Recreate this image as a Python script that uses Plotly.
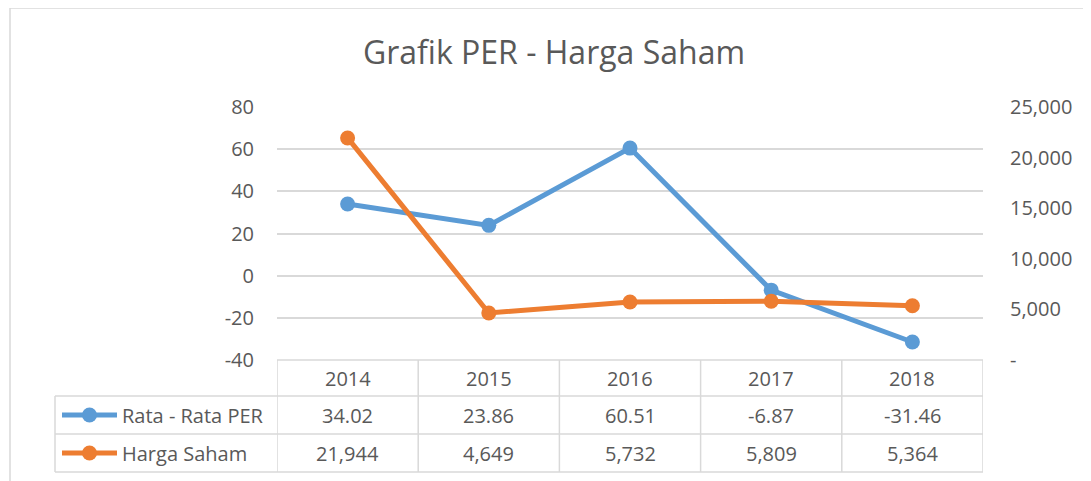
import plotly.graph_objects as go

years = ["2014", "2015", "2016", "2017", "2018"]
rata_per = [34.02, 23.86, 60.51, -6.87, -31.46]
harga_saham = [21944, 4649, 5732, 5809, 5364]
left_ticks = [-40, -20, 0, 20, 40, 60, 80]
left_labels = ["-40", "-20", "0", "20", "40", "60", "80"]
right_ticks = [0, 5000, 10000, 15000, 20000, 25000]
right_labels = ["-", "5,000", "10,000", "15,000", "20,000", "25,000"]

BLUE = "#5B9BD5"
ORANGE = "#ED7D31"
GRID = "#D9D9D9"
TXT = "#595959"
FONT = "Open Sans"

W, H = 1091, 481
OFF = 8  # page body margin shifts the figure by 8px
L, R, T, B = 277 - OFF, 983 - OFF, 107 - OFF, 360 - OFF


def px(x):
    # x in page pixels -> paper coords
    return (x - OFF - L) / (R - L)


def py(y):
    return (B - (y - OFF)) / (B - T)


fig = go.Figure()
fig.add_trace(
    go.Scatter(
        x=list(range(len(years))),
        y=rata_per,
        name="Rata - Rata PER",
        mode="lines+markers",
        line=dict(color=BLUE, width=5),
        marker=dict(size=15, color=BLUE),
        yaxis="y1",
    )
)
fig.add_trace(
    go.Scatter(
        x=list(range(len(years))),
        y=harga_saham,
        name="Harga Saham",
        mode="lines+markers",
        line=dict(color=ORANGE, width=5),
        marker=dict(size=15, color=ORANGE),
        yaxis="y2",
    )
)

# data table under the plot
row_top = [360, 396, 434]
row_bot = [396, 434, 472]
shapes = []
line = dict(color=GRID, width=1.5)
# outer chart border (cropped)
shapes.append(dict(type="line", xref="paper", yref="paper", x0=px(10), x1=px(1100), y0=py(8), y1=py(8), line=line))
shapes.append(dict(type="line", xref="paper", yref="paper", x0=px(10), x1=px(10), y0=py(8), y1=py(490), line=line))
# horizontal table lines
shapes.append(dict(type="line", xref="x", yref="paper", x0=-0.5, x1=len(years) - 0.5, y0=py(360), y1=py(360), line=line))
for yy in [396, 434, 472]:
    shapes.append(dict(type="line", xref="paper", yref="paper", x0=px(55), x1=1, y0=py(yy), y1=py(yy), line=line))
shapes.append(dict(type="line", xref="paper", yref="paper", x0=px(55), x1=px(55), y0=py(396), y1=py(472), line=line))
for i in range(len(years) + 1):
    shapes.append(dict(type="line", xref="x", yref="paper", x0=i - 0.5, x1=i - 0.5, y0=py(360), y1=py(472), line=line))

annotations = []
rows = [
    years,
    [f"{v:.2f}" for v in rata_per],
    [f"{v:,}" for v in harga_saham],
]
for r, vals in enumerate(rows):
    yc = py((row_top[r] + row_bot[r]) / 2)
    for i, v in enumerate(vals):
        annotations.append(dict(x=i, y=yc, xref="x", yref="paper", text=v, showarrow=False,
                                font=dict(family=FONT, size=20, color=TXT), xanchor="center", yanchor="middle"))

for r, (name, col) in enumerate([("Rata - Rata PER", BLUE), ("Harga Saham", ORANGE)], start=1):
    yc = py((row_top[r] + row_bot[r]) / 2)
    shapes.append(dict(type="line", xref="paper", yref="paper", x0=px(62), x1=px(117), y0=yc, y1=yc,
                       line=dict(color=col, width=5)))
    shapes.append(dict(type="circle", xref="paper", yref="paper", xsizemode="pixel", ysizemode="pixel",
                       xanchor=px(89.5), yanchor=yc, x0=-7.5, x1=7.5, y0=-7.5, y1=7.5,
                       fillcolor=col, line=dict(color=col, width=0)))
    annotations.append(dict(x=px(120), y=yc, xref="paper", yref="paper", text=name, showarrow=False,
                            font=dict(family=FONT, size=20, color=TXT), xanchor="left", yanchor="middle"))

fig.update_layout(
    width=W,
    height=H,
    paper_bgcolor="white",
    plot_bgcolor="white",
    margin=dict(l=L, r=W - R, t=T, b=H - B, pad=0),
    title=dict(text="Grafik PER - Harga Saham", x=(554 - OFF) / W, y=1 - (53 - OFF) / H,
               xanchor="center", yanchor="middle", font=dict(family=FONT, size=32, color=TXT)),
    showlegend=False,
    xaxis=dict(range=[-0.5, len(years) - 0.5], showgrid=False, zeroline=False, showticklabels=False,
               showline=False, fixedrange=True),
    yaxis=dict(range=[-40, 80], tickvals=left_ticks, ticktext=left_labels, showgrid=True, gridcolor=GRID,
               gridwidth=1.5, zeroline=False, showline=False, ticks="", ticklabelstandoff=22,
               tickfont=dict(family=FONT, size=20, color=TXT)),
    yaxis2=dict(range=[0, 25000], tickvals=right_ticks, ticktext=right_labels, overlaying="y", side="right",
                showgrid=False, zeroline=False, showline=False, ticks="", ticklabelstandoff=26,
                tickfont=dict(family=FONT, size=20, color=TXT)),
    shapes=shapes,
    annotations=annotations,
)

fig.write_html("out.html")
